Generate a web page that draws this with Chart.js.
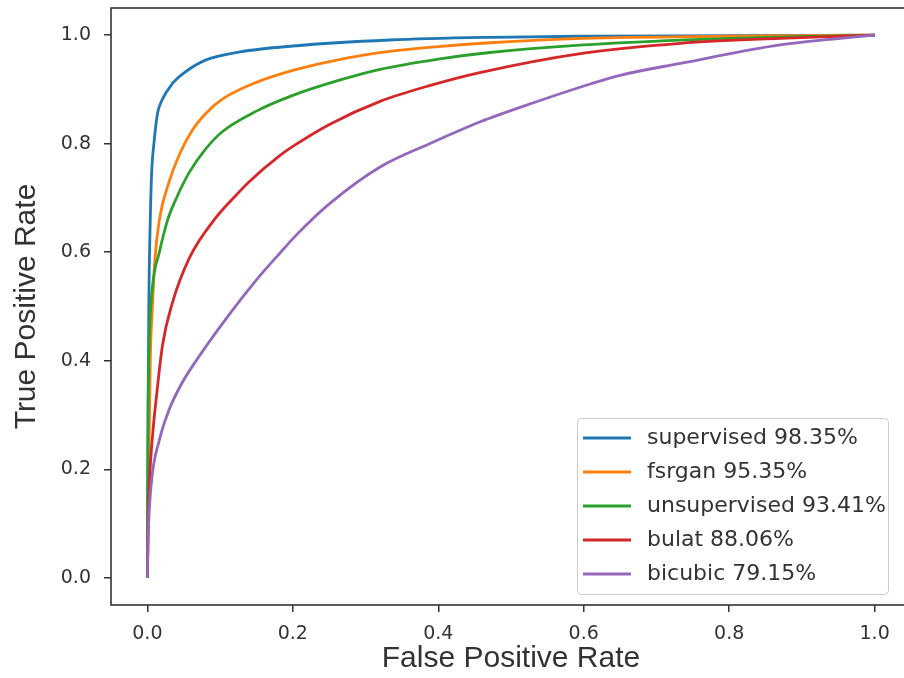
<!DOCTYPE html>
<html>
<head>
<meta charset="utf-8">
<script src="https://cdn.jsdelivr.net/npm/chart.js@4.4.1/dist/chart.umd.min.js"></script>
<style>
  html, body { margin: 0; padding: 0; background: #fff; overflow: hidden; }
  #wrap { width: 911px; height: 678px; }
</style>
</head>
<body>
<div id="wrap"><canvas id="c" width="911" height="678"></canvas></div>
<script>
// ---- Data ----
const seriesNames = ["supervised 98.35%", "fsrgan 95.35%", "unsupervised 93.41%", "bulat 88.06%", "bicubic 79.15%"];
const seriesColors = ["#1f77b4", "#ff7f0e", "#2ca02c", "#d62728", "#9467bd"];

const supervisedFpr = [0, 0.001, 0.002, 0.004, 0.006, 0.009, 0.014, 0.02, 0.034, 0.05, 0.08, 0.127, 0.2, 0.333, 0.47, 0.6, 0.8, 1];
const supervisedTpr = [0, 0.30, 0.50, 0.66, 0.75, 0.80, 0.856, 0.88, 0.91, 0.93, 0.954, 0.969, 0.98, 0.991, 0.996, 0.998, 0.999, 1];

const fsrganFpr = [0, 0.002, 0.004, 0.007, 0.01, 0.0165, 0.03, 0.044, 0.062, 0.08, 0.103, 0.15, 0.2, 0.264, 0.333, 0.4, 0.471, 0.6, 0.8, 1];
const fsrganTpr = [0, 0.20, 0.40, 0.50, 0.58, 0.66, 0.73, 0.78, 0.825, 0.855, 0.882, 0.913, 0.935, 0.955, 0.97, 0.979, 0.986, 0.994, 0.998, 1];

const unsupervisedFpr = [0, 0.001, 0.003, 0.007, 0.0165, 0.028, 0.04, 0.058, 0.08, 0.103, 0.15, 0.2, 0.264, 0.32, 0.4, 0.471, 0.6, 0.8, 1];
const unsupervisedTpr = [0, 0.30, 0.45, 0.536, 0.60, 0.66, 0.70, 0.748, 0.79, 0.822, 0.86, 0.889, 0.917, 0.937, 0.956, 0.968, 0.982, 0.994, 1];

const bulatFpr = [0, 0.001, 0.003, 0.007, 0.012, 0.021, 0.034, 0.058, 0.095, 0.117, 0.14, 0.182, 0.2, 0.251, 0.32, 0.388, 0.457, 0.6, 0.733, 0.87, 1];
const bulatTpr = [0, 0.09, 0.18, 0.26, 0.328, 0.43, 0.505, 0.59, 0.665, 0.698, 0.73, 0.778, 0.795, 0.836, 0.878, 0.907, 0.931, 0.967, 0.985, 0.994, 1];

const bicubicFpr = [0, 0.001, 0.005, 0.0165, 0.03, 0.048, 0.067, 0.103, 0.15, 0.182, 0.205, 0.251, 0.32, 0.388, 0.457, 0.53, 0.609, 0.65, 0.733, 0.87, 1];
const bicubicTpr = [0, 0.07, 0.168, 0.254, 0.31, 0.36, 0.40, 0.468, 0.549, 0.598, 0.632, 0.69, 0.757, 0.80, 0.84, 0.875, 0.91, 0.926, 0.948, 0.982, 1];

const tickValues = [0, 0.2, 0.4, 0.6, 0.8, 1.0];
const xTitle = "False Positive Rate";
const yTitle = "True Positive Rate";

// ---- Build datasets ----
const fprList = [supervisedFpr, fsrganFpr, unsupervisedFpr, bulatFpr, bicubicFpr];
const tprList = [supervisedTpr, fsrganTpr, unsupervisedTpr, bulatTpr, bicubicTpr];
const datasets = seriesNames.map((name, i) => ({
  label: name,
  data: fprList[i].map((x, j) => ({ x: x, y: tprList[i][j] })),
  borderColor: seriesColors[i],
  backgroundColor: seriesColors[i],
  borderWidth: 2.8,
  pointRadius: 0,
  cubicInterpolationMode: 'monotone',
  fill: false,
  order: seriesNames.length - i
}));

const frame = {
  id: 'frame',
  afterDatasetsDraw(chart) {
    const { ctx, chartArea: a } = chart;
    ctx.save();
    ctx.strokeStyle = '#333';
    ctx.lineWidth = 1.6;
    ctx.strokeRect(a.left, a.top, a.right - a.left, a.bottom - a.top);
    ctx.restore();
  }
};

const innerLegend = {
  id: 'innerLegend',
  afterDraw(chart) {
    const ctx = chart.ctx;
    const x0 = 577, y0 = 418, w = 311, h = 176;
    ctx.save();
    ctx.fillStyle = 'rgba(255,255,255,0.85)';
    ctx.strokeStyle = '#cccccc';
    ctx.lineWidth = 1;
    ctx.beginPath();
    ctx.roundRect(x0 + 0.5, y0 + 0.5, w, h, 4);
    ctx.fill();
    ctx.stroke();
    ctx.font = '22px "DejaVu Sans"';
    ctx.textBaseline = 'middle';
    ctx.textAlign = 'left';
    chart.data.datasets.forEach((ds, i) => {
      const cy = 438 + i * 34;
      ctx.strokeStyle = ds.borderColor;
      ctx.lineWidth = 2.8;
      ctx.beginPath();
      ctx.moveTo(583, cy);
      ctx.lineTo(631, cy);
      ctx.stroke();
      ctx.fillStyle = '#333';
      ctx.fillText(ds.label, 647, cy);
    });
    ctx.restore();
  }
};

const tickFont = { family: '"DejaVu Sans"', size: 19 };
const titleFont = { family: '"Liberation Sans", Arial', size: 30 };

new Chart(document.getElementById('c'), {
  type: 'line',
  data: { datasets },
  options: {
    responsive: false,
    animation: false,
    devicePixelRatio: 1,
    layout: { padding: { top: 8, right: 0, left: 0, bottom: 0 } },
    plugins: { legend: { display: false }, tooltip: { enabled: false } },
    scales: {
      x: {
        type: 'linear',
        min: -0.05, max: 1.05,
        afterBuildTicks: s => { s.ticks = tickValues.map(v => ({ value: v })); },
        afterFit: s => { s.height = 73; s.paddingLeft = 0; s.paddingRight = 0; },
        ticks: { font: tickFont, color: '#333', padding: 11, callback: v => Number(v).toFixed(1), maxRotation: 0 },
        grid: { drawOnChartArea: false, drawTicks: true, tickLength: 7, color: '#333', lineWidth: 1.5 },
        border: { display: false },
        title: { display: true, text: xTitle, font: titleFont, color: '#333', padding: { top: 0, bottom: 1 } }
      },
      y: {
        type: 'linear',
        min: -0.05, max: 1.05,
        afterBuildTicks: s => { s.ticks = tickValues.map(v => ({ value: v })); },
        afterFit: s => { s.width = 111; s.paddingTop = 0; s.paddingBottom = 0; },
        ticks: { font: tickFont, color: '#333', padding: 13, callback: v => Number(v).toFixed(1) },
        grid: { drawOnChartArea: false, drawTicks: true, tickLength: 7, color: '#333', lineWidth: 1.5 },
        border: { display: false },
        title: { display: true, text: yTitle, font: titleFont, color: '#333', padding: { top: 9, bottom: 0 } }
      }
    }
  },
  plugins: [frame, innerLegend]
});
</script>
</body>
</html>
